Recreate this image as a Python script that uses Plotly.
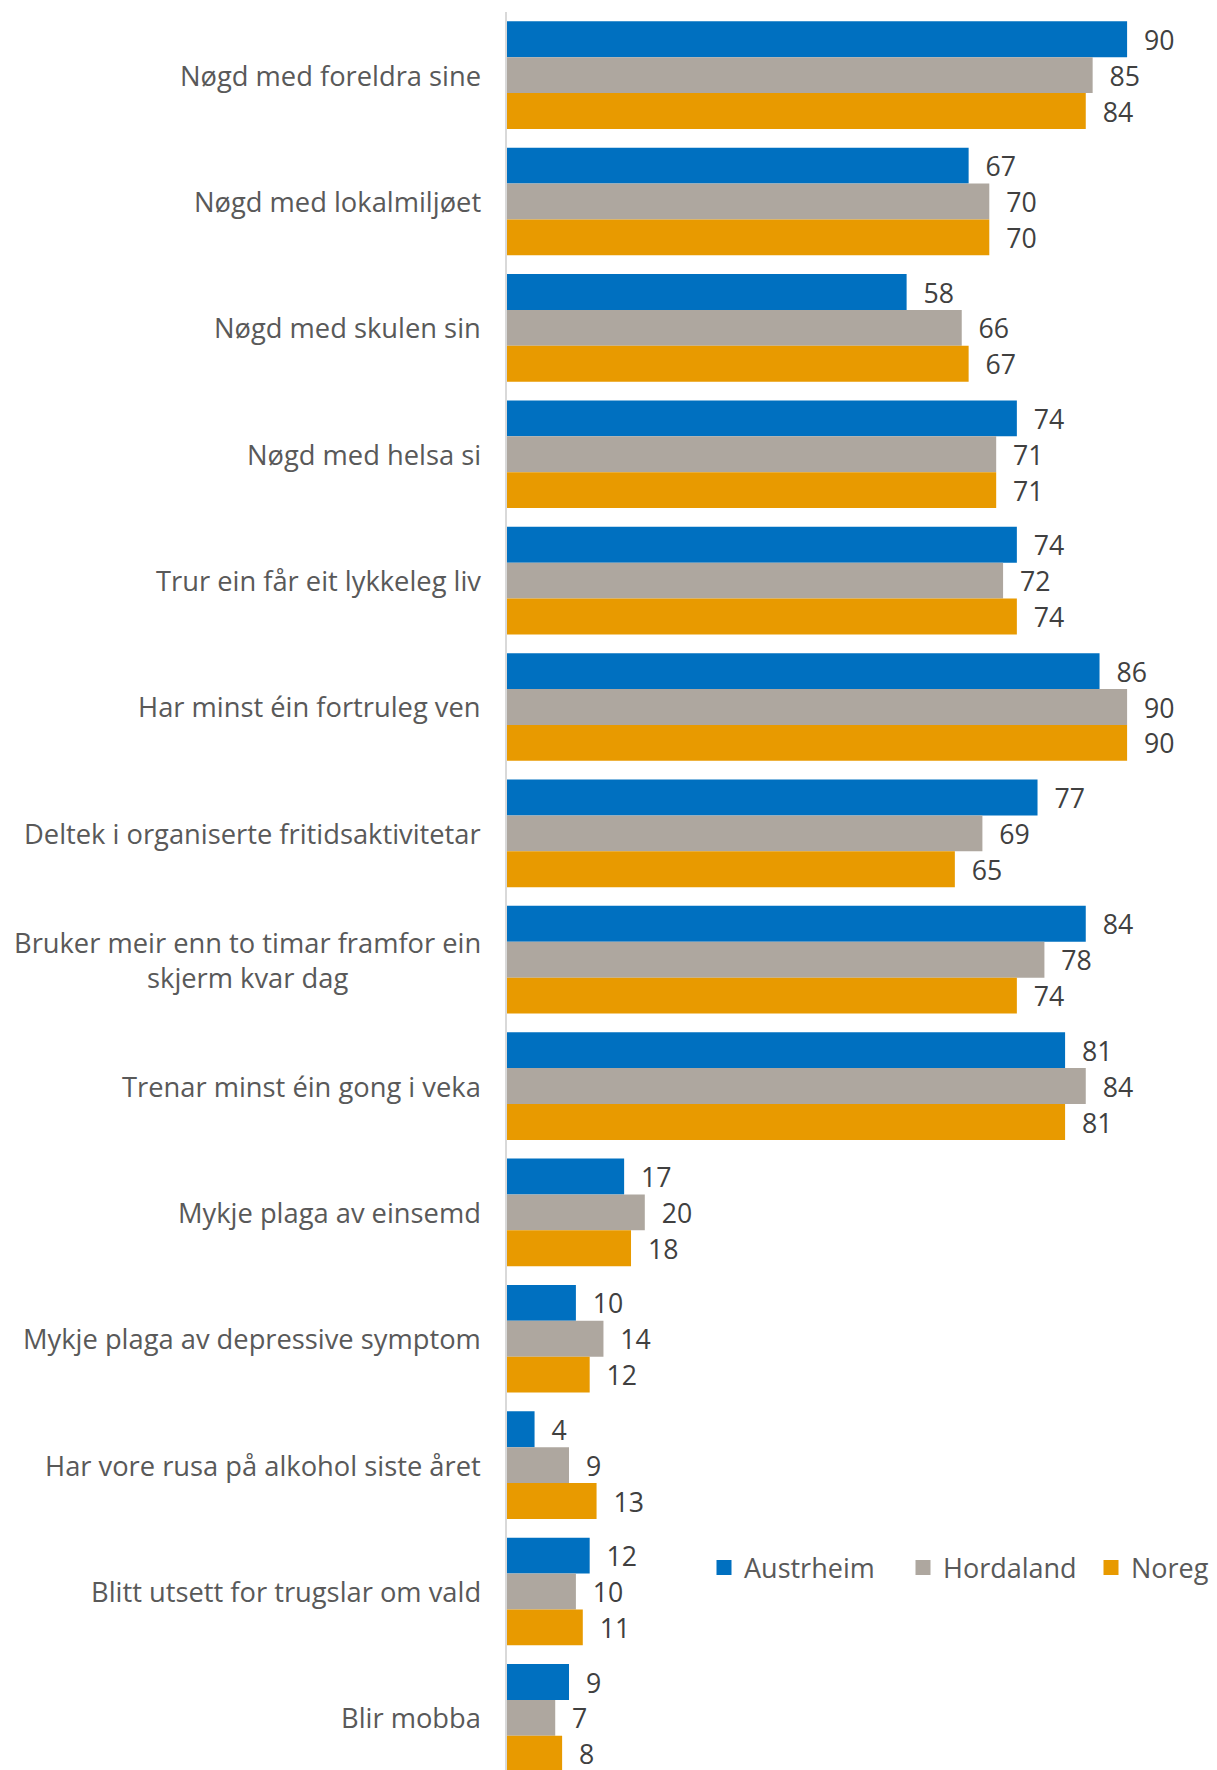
import plotly.graph_objects as go

categories = [
    "Nøgd med foreldra sine",
    "Nøgd med lokalmiljøet",
    "Nøgd med skulen sin",
    "Nøgd med helsa si",
    "Trur ein får eit lykkeleg liv",
    "Har minst éin fortruleg ven",
    "Deltek i organiserte fritidsaktivitetar",
    "Bruker meir enn to timar framfor ein<br>skjerm kvar dag",
    "Trenar minst éin gong i veka",
    "Mykje plaga av einsemd",
    "Mykje plaga av depressive symptom",
    "Har vore rusa på alkohol siste året",
    "Blitt utsett for trugslar om vald",
    "Blir mobba",
]
series_names = ["Austrheim", "Hordaland", "Noreg"]
austrheim = [90, 67, 58, 74, 74, 86, 77, 84, 81, 17, 10, 4, 12, 9]
hordaland = [85, 70, 66, 71, 72, 90, 69, 78, 84, 20, 14, 9, 10, 7]
noreg = [84, 70, 67, 71, 74, 90, 65, 74, 81, 18, 12, 13, 11, 8]
colors = ["#0070C0", "#AEA79F", "#E89A00"]

FONT = "Open Sans, Roboto, Liberation Sans, Arial, sans-serif"
L, R, T, B = 499, 29, 4, 0
W, H = 1217, 1770
PW = W - L - R

fig = go.Figure()
for name, vals, col in zip(series_names, [austrheim, hordaland, noreg], colors):
    fig.add_trace(go.Bar(
        y=categories, x=vals, name=name, orientation="h",
        marker=dict(color=col, line=dict(width=0)),
        text=["  " + str(v) for v in vals], textposition="outside",
        textfont=dict(family=FONT, size=29, color="#404040"),
        cliponaxis=False, showlegend=False,
    ))

# legend-only entries (square swatches), one legend per series
legend_ids = ["legend", "legend2", "legend3"]
legend_starts = [696.0, 895.0, 1083.0]  # px from figure left where each entry begins
for name, col, lid in zip(series_names, colors, legend_ids):
    fig.add_trace(go.Scatter(
        x=[None], y=[None], mode="markers", name=name,
        marker=dict(symbol="square", size=15, color=col, line=dict(width=0)),
        legend=lid, showlegend=True,
    ))

for c in categories:
    fig.add_annotation(x=0, xref="paper", y=c, yref="y", text=c,
                       xanchor="right", yanchor="middle", align="center",
                       xshift=-24, showarrow=False,
                       font=dict(family=FONT, size=27.3, color="#595959"))

legend_y = (H - 1560) / (H - T - B)
layout_legends = {}
for lid, sx in zip(legend_ids, legend_starts):
    layout_legends[lid] = dict(
        orientation="h", x=(sx - L) / PW, y=legend_y, xanchor="left", yanchor="middle",
        font=dict(family=FONT, size=27, color="#595959"),
        bgcolor="rgba(0,0,0,0)", borderwidth=0, itemclick=False, itemdoubleclick=False,
    )

fig.update_layout(
    width=W, height=H,
    margin=dict(l=L, r=R, t=T, b=B),
    barmode="group", bargap=0.148, bargroupgap=0,
    plot_bgcolor="white", paper_bgcolor="white",
    showlegend=True,
    xaxis=dict(range=[0, 100], showgrid=False, showticklabels=False, zeroline=False,
               showline=False),
    yaxis=dict(range=[13.476, -0.5], showticklabels=False, showgrid=False,
               showline=True, linecolor="#D9D9D9", linewidth=2, ticks=""),
    **layout_legends,
)
fig.write_html("out.html")
